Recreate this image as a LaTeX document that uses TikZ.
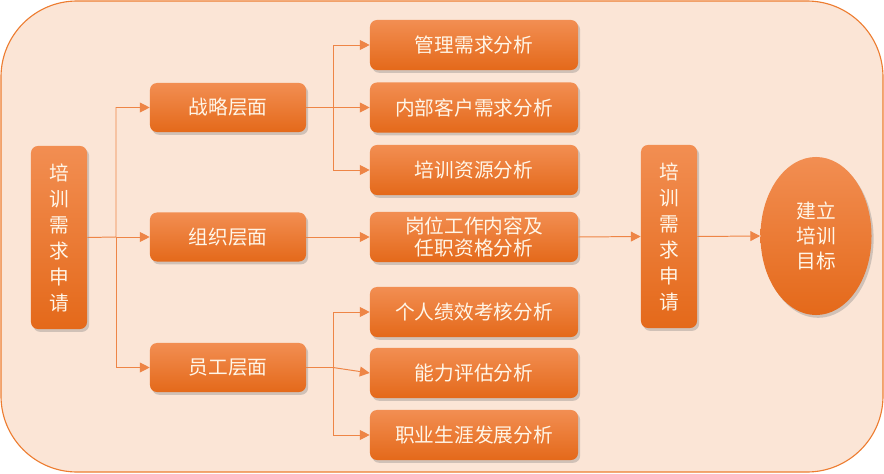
\documentclass[tikz,border=0pt]{standalone}
\usepackage{fontspec}
\setmainfont{Noto Sans CJK SC}
\usepackage{tikz}
\usetikzlibrary{positioning,shapes.geometric,arrows.meta,shadows}

\definecolor{panelfill}{HTML}{FBE5D6}
\definecolor{paneldraw}{HTML}{ED7D31}
\definecolor{boxtop}{HTML}{F28E52}
\definecolor{boxbottom}{HTML}{E4691A}
\definecolor{linkcol}{HTML}{EE8546}
\definecolor{boxtext}{HTML}{FFF6E8}

\begin{document}
\begin{tikzpicture}[
    x=0.025cm, y=-0.025cm,
    every node/.style={align=center, text=boxtext, font=\fontsize{14}{20}\selectfont},
    stage/.style={rectangle, rounded corners=5pt, top color=boxtop, bottom color=boxbottom,
        draw=none, drop shadow={shadow xshift=1.5pt, shadow yshift=-2pt, opacity=0.35}},
    level/.style={stage, minimum width=3.9cm, minimum height=1.225cm},
    item/.style={stage, minimum width=5.2cm, minimum height=1.25cm},
    request/.style={stage, minimum width=1.4cm, minimum height=4.575cm, font=\fontsize{14}{18.5}\selectfont},
    goal/.style={ellipse, top color=boxtop, bottom color=boxbottom, draw=none,
        minimum width=2.775cm, minimum height=3.95cm, inner sep=0pt,
        drop shadow={shadow xshift=1.5pt, shadow yshift=-2pt, opacity=0.35},
        font=\fontsize{14}{17.5}\selectfont},
    link/.style={draw=linkcol, line width=0.7pt, -{Triangle[length=7pt,width=7pt]}}
]

\useasboundingbox (0,0) rectangle (884,474);
\draw[fill=panelfill, draw=paneldraw, line width=0.8pt, rounded corners=1.9cm] (1,1) rectangle (883,472);

% left column
\node[request] (req) at (59,237.5) {培\\训\\需\\求\\申\\请};

% levels
\node[level] (strategy) at (228,107.5) {战略层面};
\node[level] (org) at (228,237) {组织层面};
\node[level] (staff) at (228,367.5) {员工层面};

% analyses
\node[item] (mgmt) at (474,45) {管理需求分析};
\node[item] (client) at (474,107.5) {内部客户需求分析};
\node[item] (resource) at (474,170) {培训资源分析};
\node[item, font=\fontsize{14}{15.5}\selectfont] (post) at (474,237) {岗位工作内容及\\任职资格分析};
\node[item] (perf) at (474,312) {个人绩效考核分析};
\node[item] (ability) at (474,373) {能力评估分析};
\node[item] (career) at (474,435) {职业生涯发展分析};

% right side
\node[request] (req2) at (669,236.5) {培\\训\\需\\求\\申\\请};
\node[goal] (goal) at (816,236) {建立\\培训\\目标};

% connectors
\coordinate (fork1) at (116,237);
\coordinate (fork2) at (333,107.5);
\coordinate (fork3) at (333,367.5);

\draw[link] (req.east) -- (fork1) |- (strategy.west);
\draw[link] (fork1) -- (org.west);
\draw[link] (fork1) |- (staff.west);

\draw[link] (strategy.east) -- (fork2) |- (mgmt.west);
\draw[link] (fork2) -- (client.west);
\draw[link] (fork2) |- (resource.west);

\draw[link] (org.east) -- (post.west);

\draw[link] (staff.east) -- (fork3) |- (perf.west);
\draw[link] (fork3) -- (ability.west);
\draw[link] (fork3) |- (career.west);

\draw[link] (post.east) -- (req2.west);
\draw[link] (req2.east) -- (goal.west);

\end{tikzpicture}
\end{document}
